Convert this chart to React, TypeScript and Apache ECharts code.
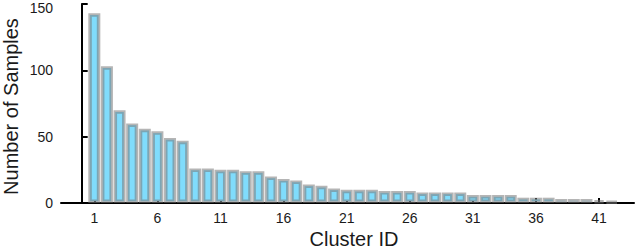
import React, { useEffect, useRef } from "react";
import * as echarts from "echarts";

const clusterIds: number[] = Array.from({ length: 42 }, (_, i) => i + 1);
const sampleCounts: number[] = [
  143, 103, 70, 60, 56, 54, 49, 47, 26, 26,
  25, 25, 24, 24, 20, 18, 17, 14, 13, 11,
  10, 10, 10, 9, 9, 9, 8, 8, 8, 8,
  6, 6, 6, 6, 4, 4, 4, 3, 3, 3,
  2, 1,
];
const xTickValues: number[] = [1, 6, 11, 16, 21, 26, 31, 36, 41];
const yTickValues: number[] = [0, 50, 100, 150];

export default function App() {
  const ref = useRef<HTMLDivElement>(null);
  useEffect(() => {
    if (!ref.current) return;
    const chart = echarts.init(ref.current, undefined, { renderer: "svg" });
    const font = "Liberation Sans, Arial, sans-serif";
    chart.setOption({
      animation: false,
      grid: { left: 61, right: 6, top: 4, bottom: 47, outerBoundsMode: "none", containLabel: false },
      xAxis: {
        type: "value",
        min: -1.64,
        max: 43.77,
        name: "Cluster ID",
        nameLocation: "middle",
        nameGap: 26,
        nameMoveOverlap: false,
        nameTextStyle: { fontSize: 20, color: "#1a1a1a", fontFamily: font, padding: [0, 0, 0, 13] },
        axisLine: { show: true, lineStyle: { color: "#000", width: 2 } },
        axisTick: { show: true, inside: true, length: 5, lineStyle: { color: "#000", width: 2 }, customValues: xTickValues },
        axisLabel: { fontSize: 14, color: "#1a1a1a", fontFamily: font, margin: 8, customValues: xTickValues },
        splitLine: { show: false },
      },
      yAxis: {
        type: "value",
        min: 0,
        max: 150,
        interval: 50,
        name: "Number of Samples",
        nameLocation: "middle",
        nameGap: 40,
        nameMoveOverlap: false,
        nameTextStyle: { fontSize: 20, color: "#1a1a1a", fontFamily: font, padding: [0, 6, 0, 0] },
        axisLine: { show: true, lineStyle: { color: "#000", width: 2 } },
        axisTick: { show: true, inside: true, length: 6, lineStyle: { color: "#000", width: 2 }, customValues: yTickValues },
        axisLabel: {
          fontSize: 14,
          color: "#1a1a1a",
          fontFamily: font,
          margin: 8,
          customValues: yTickValues,
          formatter: (v: number) => (v === 150 ? "{top|" + v + "}" : String(v)),
          rich: { top: { fontSize: 14, color: "#1a1a1a", fontFamily: font, padding: [7, 0, 0, 0] } },
        },
        splitLine: { show: false },
      },
      series: [
        {
          type: "bar",
          data: clusterIds.map((id, i) => [id, sampleCounts[i]]),
          barWidth: 12,
          itemStyle: {
            color: "#80dcfc",
            borderColor: "rgba(120,120,120,0.55)",
            borderWidth: 3.5,
          },
        },
      ],
    });
    return () => chart.dispose();
  }, []);
  return (
    <div
      ref={ref}
      style={{ position: "fixed", left: 0, top: 0, width: 640, height: 250, background: "#fff" }}
    />
  );
}
